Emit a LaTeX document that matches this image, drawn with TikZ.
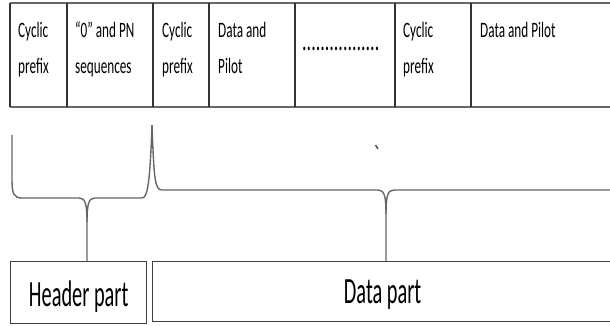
\documentclass[tikz,border=0pt]{standalone}
\usepackage{fontspec}
\newfontfamily\topf{Carlito}[FakeStretch=0.6]
\newfontfamily\bigf{Carlito}[FakeStretch=0.55]
\begin{document}
\begin{tikzpicture}[x=1pt,y=-1pt,
  hline/.style={draw=black!60,line width=1.8pt},
  vline/.style={draw=black!80,line width=1.2pt},
  celltext/.style={anchor=base west,inner sep=0pt,align=left,text=black,
    font=\topf\fontsize{22}{36}\selectfont},
  bracestyle/.style={draw=black!60,line width=1.4pt},
  partbox/.style={draw=black!75,line width=1.3pt,inner sep=0pt,anchor=north west,
    text=black,font=\bigf\fontsize{37}{40}\selectfont}]
\useasboundingbox (0,0) rectangle (610,326);
% top table
\draw[hline] (10,3) -- (612,3);
\draw[hline] (10,107) -- (612,107);
\foreach \x in {10,67,153,209,295,395,471}
  \draw[vline] (\x,3) -- (\x,107);
% two-line cells: anchor is the baseline of the last line
\node[celltext] (c1) at (18,74) {Cyclic\\prefix};
\node[celltext] (c2) at (75,74) {“0” and PN\\sequences};
\node[celltext] (c3) at (162,74) {Cyclic\\prefix};
\node[celltext] (c4) at (218,74) {Data and\\Pilot};
\node[celltext,font=\topf\fontsize{30}{30}\selectfont] (c5) at (302,51) {.................};
\node[celltext] (c6) at (403,74) {Cyclic\\prefix};
\node[celltext] (c7) at (480,38) {Data and Pilot};
% bottom boxes
\node[partbox,minimum width=136pt,minimum height=62pt,text height=29pt,text depth=1pt] (hdr) at (10,261) {Header part};
\node[partbox,minimum width=460pt,minimum height=60pt,text height=26pt,text depth=2pt] (data) at (152,261) {Data part};
\coordinate (top) at (152,125);
\coordinate (htip) at (87,261);
\coordinate (dtip) at (386,261);
% header brace
\draw[bracestyle] (12,135) -- (12,180) .. controls (12,194) and (14,198) .. (22,198)
  -- (79,198) .. controls (85,198) and (87,203) .. (87,222) -- (htip);
\draw[bracestyle] (87,222) .. controls (87,203) and (89,198) .. (95,198)
  -- (142,198) .. controls (148,198) and (150,180) .. (top);
% data brace
\draw[bracestyle] (top) .. controls (154,180) and (155,190) .. (162,190)
  -- (378,190) .. controls (384,190) and (386,195) .. (386,214) -- (dtip);
\draw[bracestyle] (386,214) .. controls (386,195) and (388,190) .. (394,190) -- (612,190);
% small stray mark
\draw[black!70,line width=1.4pt] (375.5,145) -- (378,149);
\end{tikzpicture}
\end{document}
